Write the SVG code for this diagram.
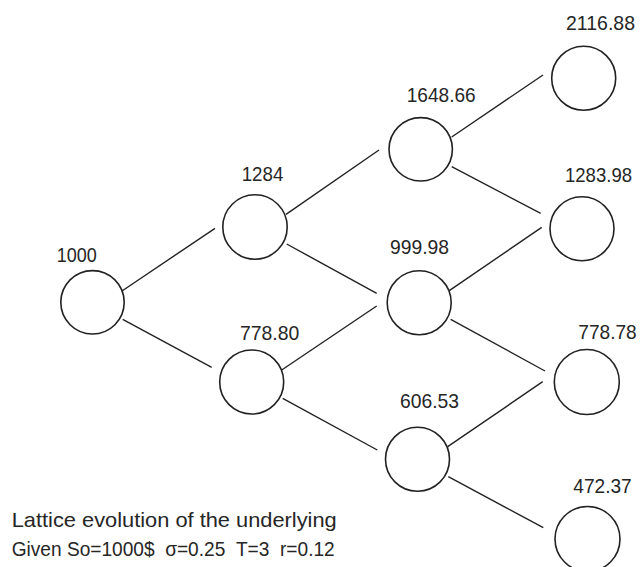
<svg xmlns="http://www.w3.org/2000/svg" width="641" height="567" viewBox="0 0 641 567">
<style>
.node{fill:#fff;stroke:#222;stroke-width:1.6}
.edge{stroke:#222;stroke-width:1.4;fill:none}
.lbl{font-family:"Liberation Sans",Arial,sans-serif;font-size:21px;fill:#262626}
.cap{font-family:"Liberation Sans",Arial,sans-serif;font-size:21px;fill:#262626}
</style>
<rect width="641" height="567" fill="#fff"/>
<g id="connectors">
<line class="edge" x1="122" y1="291" x2="215" y2="228.3"/>
<line class="edge" x1="122.7" y1="319.3" x2="211.7" y2="367.3"/>
<line class="edge" x1="286" y1="214.3" x2="379" y2="150"/>
<line class="edge" x1="286.7" y1="244" x2="376.7" y2="293.3"/>
<line class="edge" x1="281.7" y1="370" x2="376.7" y2="306"/>
<line class="edge" x1="282.7" y1="398.3" x2="377.3" y2="450"/>
<line class="edge" x1="451.7" y1="137" x2="543" y2="75"/>
<line class="edge" x1="451.7" y1="166.7" x2="540.7" y2="213.3"/>
<line class="edge" x1="449.3" y1="290.7" x2="541.7" y2="227.3"/>
<line class="edge" x1="450.7" y1="319.3" x2="545" y2="371"/>
<line class="edge" x1="447.7" y1="446.7" x2="542.7" y2="381.7"/>
<line class="edge" x1="448.3" y1="476.7" x2="543.3" y2="527.7"/>
</g>
<g id="n1000"><circle class="node" cx="92.5" cy="302.3" r="31.7"/><text class="lbl" x="56.7" y="262" textLength="40" lengthAdjust="spacingAndGlyphs">1000</text></g>
<g id="n1284"><circle class="node" cx="255" cy="227" r="32.2"/><text class="lbl" x="241.7" y="180.7" textLength="41.6" lengthAdjust="spacingAndGlyphs">1284</text></g>
<g id="n778_80"><circle class="node" cx="251.7" cy="382" r="32"/><text class="lbl" x="240" y="340" textLength="59.3" lengthAdjust="spacingAndGlyphs">778.80</text></g>
<g id="n1648_66"><circle class="node" cx="420.7" cy="149.3" r="31.7"/><text class="lbl" x="406.7" y="101.5" textLength="69" lengthAdjust="spacingAndGlyphs">1648.66</text></g>
<g id="n999_98"><circle class="node" cx="419.2" cy="302.7" r="32"/><text class="lbl" x="390" y="254" textLength="59" lengthAdjust="spacingAndGlyphs">999.98</text></g>
<g id="n606_53"><circle class="node" cx="417.5" cy="459.3" r="32"/><text class="lbl" x="400" y="408.3" textLength="59" lengthAdjust="spacingAndGlyphs">606.53</text></g>
<g id="n2116_88"><circle class="node" cx="583.7" cy="78.3" r="32"/><text class="lbl" x="566" y="30" textLength="69" lengthAdjust="spacingAndGlyphs">2116.88</text></g>
<g id="n1283_98"><circle class="node" cx="582" cy="228.7" r="32"/><text class="lbl" x="565" y="181.7" textLength="67" lengthAdjust="spacingAndGlyphs">1283.98</text></g>
<g id="n778_78"><circle class="node" cx="586.8" cy="382" r="32.5"/><text class="lbl" x="578.3" y="339.3" textLength="58.4" lengthAdjust="spacingAndGlyphs">778.78</text></g>
<g id="n472_37"><circle class="node" cx="587.5" cy="539" r="32.5"/><text class="lbl" x="573.3" y="493.3" textLength="58.4" lengthAdjust="spacingAndGlyphs">472.37</text></g>
<g id="caption">
<text class="cap" x="11.7" y="526.7" textLength="325" lengthAdjust="spacingAndGlyphs">Lattice evolution of the underlying</text>
<text class="cap" x="11.7" y="556" textLength="323" lengthAdjust="spacingAndGlyphs" xml:space="preserve">Given So=1000$  σ=0.25  T=3  r=0.12</text>
</g>
</svg>
